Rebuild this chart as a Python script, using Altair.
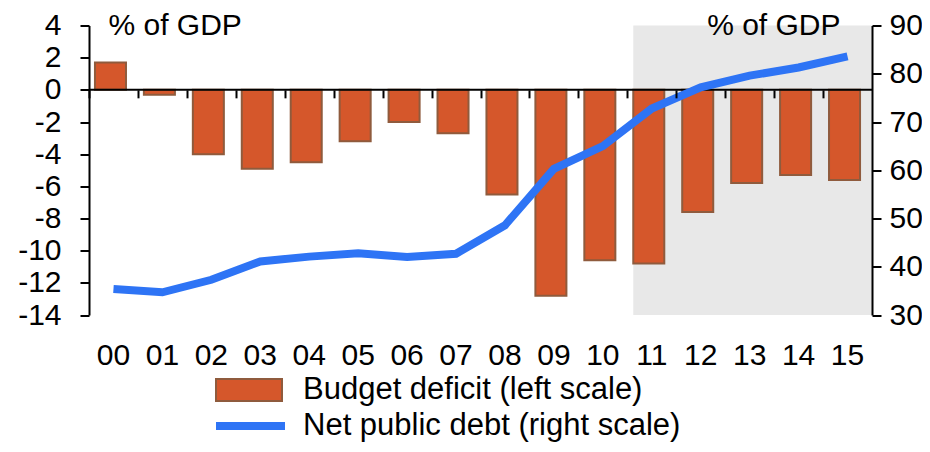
import altair as alt
import pandas as pd

# ---- data ----
years = ["00", "01", "02", "03", "04", "05", "06", "07",
         "08", "09", "10", "11", "12", "13", "14", "15"]
budget_deficit = [1.7, -0.3, -4.0, -4.9, -4.5, -3.2, -2.0, -2.7,
                  -6.5, -12.8, -10.6, -10.8, -7.6, -5.8, -5.3, -5.6]
net_public_debt = [35.4, 34.7, 37.3, 41.1, 42.1, 42.8, 42.0, 42.7,
                   48.6, 60.3, 65.0, 72.8, 77.2, 79.6, 81.3, 83.6]
forecast_start = ["11"]
left_ticks = [-14, -12, -10, -8, -6, -4, -2, 0, 2, 4]
right_ticks = [30, 40, 50, 60, 70, 80, 90]
bar_label = "Budget deficit (left scale)"
line_label = "Net public debt (right scale)"
unit_title = "% of GDP"

# ---- styling ----
FONT = "Liberation Sans, Arial, sans-serif"
BAR_FILL = "#D5572B"
BAR_STROKE = "#8F5B3D"
LINE_COL = "#2E74F5"
SHADE = "#E8E8E8"
W, H = 783, 289.5
TOP = 17.5
LEFT_DOMAIN = [-14, 4]
RIGHT_DOMAIN = [30, 90]
zero_offset = -(H * (0 - LEFT_DOMAIN[0]) / (LEFT_DOMAIN[1] - LEFT_DOMAIN[0]))
PAD_INNER = 0.366
step = W / len(years)

df = pd.DataFrame({
    "year": years,
    "deficit": budget_deficit,
    "debt": net_public_debt,
    "bar_series": [bar_label] * len(years),
    "line_series": [line_label] * len(years),
})
shade_df = pd.DataFrame({"year": forecast_start})
zero_df = pd.DataFrame({"zero": [0]})

xscale = alt.Scale(domain=years, paddingInner=PAD_INNER, paddingOuter=PAD_INNER / 2)

shade = alt.Chart(shade_df).mark_rect(color=SHADE, xOffset=-3).encode(
    x=alt.X("year:N", scale=xscale, bandPosition=0, axis=None),
    x2=alt.value("width"),
    y=alt.value(0),
    y2=alt.value("height"),
)

bars = alt.Chart(df).mark_bar(stroke=BAR_STROKE, strokeWidth=2, xOffset=-3).encode(
    x=alt.X("year:N", scale=xscale,
            axis=alt.Axis(orient="bottom", offset=zero_offset, labels=False,
                          domain=False, ticks=True, bandPosition=0,
                          tickOffset=-PAD_INNER * step / 2,
                          tickSize=8, tickWidth=2, tickColor="black",
                          title=None, zindex=1)),
    y=alt.Y("deficit:Q", scale=alt.Scale(domain=LEFT_DOMAIN, nice=False, zero=False),
            axis=alt.Axis(orient="left", values=left_ticks, labelExpr="'' + datum.value",
                          tickSize=9, labelPadding=19, title=unit_title,
                          titleAngle=0, titleX=19, titleY=9, titleAlign="left",
                          titleBaseline="alphabetic", zindex=1)),
    color=alt.Color("bar_series:N",
                    scale=alt.Scale(domain=[bar_label], range=[BAR_FILL]),
                    legend=alt.Legend(title=None, orient="none", legendX=126, legendY=330.5,
                                      padding=0, symbolType="M-1,-0.333L1,-0.333L1,0.333L-1,0.333Z",
                                      symbolSize=4356, symbolStrokeColor=BAR_STROKE,
                                      symbolStrokeWidth=2, symbolOpacity=1,
                                      labelOffset=20, labelFontSize=31, labelFont=FONT,
                                      labelColor="black", labelLimit=0)),
)

zero_rule = alt.Chart(zero_df).mark_rule(color="black", strokeWidth=2).encode(
    y=alt.Y("zero:Q", scale=alt.Scale(domain=LEFT_DOMAIN, nice=False, zero=False), axis=None),
)

line = alt.Chart(df).mark_line(strokeWidth=8).encode(
    x=alt.X("year:N", scale=xscale,
            axis=alt.Axis(orient="bottom", labels=True, domain=False, ticks=False,
                          labelPadding=25, labelAngle=0, title=None)),
    y=alt.Y("debt:Q", scale=alt.Scale(domain=RIGHT_DOMAIN, nice=False, zero=False),
            axis=alt.Axis(orient="right", values=right_ticks, tickSize=9, labelPadding=8,
                          title=unit_title, titleAngle=0, titleX=-32, titleY=9,
                          titleAlign="right", titleBaseline="alphabetic", zindex=1)),
    stroke=alt.Stroke("line_series:N",
                      scale=alt.Scale(domain=[line_label], range=[LINE_COL]),
                      legend=alt.Legend(title=None, orient="none", legendX=123, legendY=362,
                                        padding=0, symbolType="stroke", symbolSize=4761,
                                        symbolStrokeWidth=8, labelOffset=14,
                                        labelFontSize=31, labelFont=FONT,
                                        labelColor="black", labelLimit=0)),
)

chart = alt.layer(shade, bars, zero_rule, line).resolve_scale(
    y="independent"
).resolve_axis(
    x="independent", y="independent"
).properties(
    width=W, height=H,
    autosize=alt.AutoSizeParams(type="none"),
    padding={"left": 81, "top": TOP, "right": 50, "bottom": 436 - TOP - H},
).configure_view(stroke=None).configure_axis(
    labelFont=FONT, labelFontSize=30, labelColor="black",
    titleFont=FONT, titleFontSize=30, titleFontWeight="normal", titleColor="black",
    domainColor="black", domainWidth=2, tickColor="black", tickWidth=2, grid=False,
)

chart.save("out.html", embed_options={"renderer": "svg", "actions": False})
